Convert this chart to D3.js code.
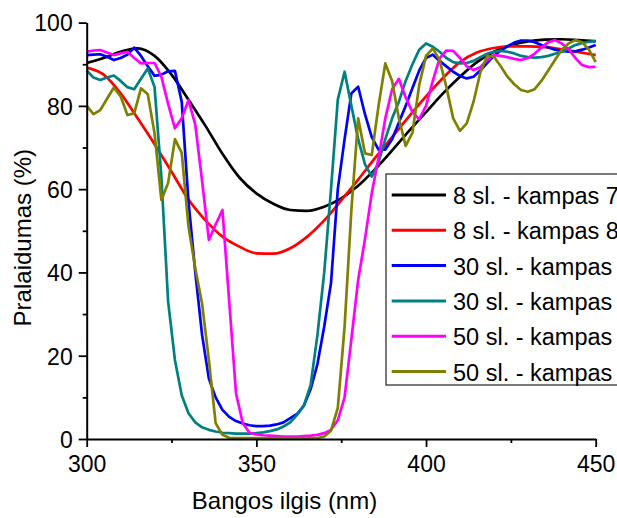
<!DOCTYPE html>
<html>
<head>
<meta charset="utf-8">
<script src="https://cdn.jsdelivr.net/npm/d3@7"></script>
<style>
  body { margin: 0; background: #fff; }
  svg { display: block; font-family: "Liberation Sans", Arial, sans-serif; }
</style>
</head>
<body>
<svg id="chart" width="617" height="518"></svg>
<script>
// wavelength grids
let wlSmooth = [300,305,310,315,320,325,330,335,340,345,350,355,360,365,370,375,380,385,390,395,400,405,410,415,420,425,430,435,440,445,450];
let wl = d3.range(300, 451, 2);

// 8 layers, smooth curves (5 nm)
let s8a = [90.3,91.5,93.0,93.8,92.0,87.5,81.5,75.2,68.5,62.8,59.0,56.5,55.0,54.8,55.8,57.8,60.8,64.8,69.3,74.0,78.5,83.0,87.0,90.5,93.0,94.6,95.5,95.9,96.0,95.8,95.5];
let s8b = [89.2,87.5,83.0,77.0,70.8,64.2,57.5,52.5,48.6,46.2,44.6,44.5,45.8,48.6,52.5,57.3,62.3,67.5,72.5,77.5,82.3,86.7,90.5,92.8,93.9,94.3,94.3,94.1,93.6,92.9,92.2];

// 30 and 50 layers (2 nm)
let s30a = [92.2,92.3,92.4,91.8,91.0,91.5,92.3,94.0,92.0,89.5,87.2,87.5,88.3,88.4,81.0,57.0,40.0,25.0,14.5,10.0,
  7.0,5.3,4.3,3.7,3.3,3.1,3.1,3.2,3.5,4.0,5.0,6.0,8.0,12.0,18.0,27.0,37.5,60.0,72.0,83.0,
  84.6,78.0,72.5,69.5,69.5,72.0,76.0,80.0,84.3,88.5,91.5,92.3,90.8,89.5,88.2,87.2,86.6,87.0,88.5,90.3,
  92.0,93.3,94.3,95.2,95.7,95.7,95.3,94.6,94.0,93.5,93.2,93.0,93.1,93.5,94.0,94.6];
let s30b = [88.5,86.8,86.2,86.8,87.3,86.0,84.5,84.0,86.5,89.0,84.5,63.0,33.0,19.0,10.5,6.2,4.0,2.8,2.2,1.8,
  1.5,1.4,1.3,1.3,1.3,1.4,1.6,1.9,2.3,3.0,4.0,5.8,8.0,13.0,25.0,40.0,60.0,81.5,88.2,80.0,
  72.0,66.0,63.0,66.5,72.0,77.0,81.0,86.0,90.0,93.5,95.0,94.2,93.0,91.5,90.5,90.2,90.3,90.8,91.7,92.5,
  93.0,93.2,93.0,92.6,92.0,91.7,91.6,91.7,92.0,92.5,93.0,93.8,94.6,95.1,95.4,95.6];
let s50a = [93.0,93.3,93.4,92.8,92.2,92.6,93.0,91.5,90.2,90.3,90.3,87.0,80.5,74.6,77.0,81.4,75.5,62.0,47.8,51.5,
  55.0,33.0,11.0,3.8,1.5,1.1,0.9,0.8,0.7,0.6,0.6,0.6,0.7,0.8,1.0,1.4,2.2,4.5,10.0,24.0,
  38.2,48.0,59.0,67.5,77.0,84.0,86.5,82.0,78.5,76.8,80.0,86.0,91.4,93.3,93.2,91.5,89.5,88.6,89.3,91.0,
  92.2,92.0,91.7,91.3,91.0,91.5,92.5,94.0,95.3,95.8,95.0,93.6,91.5,89.8,89.3,89.4];
let s50b = [80.0,78.0,79.0,81.7,84.4,82.3,77.8,78.2,84.2,82.8,73.4,57.4,61.5,72.0,68.7,51.0,41.0,32.5,19.0,3.8,
  1.0,0.3,0.2,0.2,0.2,0.2,0.2,0.2,0.2,0.2,0.2,0.2,0.2,0.2,0.2,0.6,2.0,7.5,27.0,55.0,
  77.0,68.6,68.2,80.0,90.2,86.0,77.0,70.4,73.6,85.0,92.0,93.8,91.0,84.5,77.0,74.0,75.8,81.0,88.0,92.0,
  91.8,89.5,87.0,85.2,83.8,83.4,84.0,86.0,88.5,91.0,93.5,95.0,95.8,95.3,93.5,90.5];

let labels = ["8 sl. - kampas 70°", "8 sl. - kampas 80°", "30 sl. - kampas 70°", "30 sl. - kampas 80°", "50 sl. - kampas 70°", "50 sl. - kampas 80°"];
let colors = ["#000000", "#ff0000", "#0000ff", "#008080", "#ff00ff", "#808000"];
let xTicks = [300, 350, 400, 450];
let xMinor = [325, 375, 425];
let yTicks = [0, 20, 40, 60, 80, 100];
let yMinor = [10, 30, 50, 70, 90];

let series = [
  {x: wlSmooth, y: s8a, smooth: true},
  {x: wlSmooth, y: s8b, smooth: true},
  {x: wl, y: s30a},
  {x: wl, y: s30b},
  {x: wl, y: s50a},
  {x: wl, y: s50b}
];

let svg = d3.select("#chart");
let x = d3.scaleLinear().domain([300, 450]).range([86.7, 595.7]);
let y = d3.scaleLinear().domain([0, 100]).range([439, 22.6]);

// lines
series.forEach((s, i) => {
  let line = d3.line()
    .x((d, j) => x(s.x[j]))
    .y(d => y(d))
    .curve(s.smooth ? d3.curveMonotoneX : d3.curveLinear);
  svg.append("path")
    .attr("d", line(s.y))
    .attr("fill", "none")
    .attr("stroke", colors[i])
    .attr("stroke-width", 2.7)
    .attr("stroke-linejoin", "round");
});

// axes
let gx = svg.append("g").attr("transform", "translate(0,439)")
  .call(d3.axisBottom(x).tickValues(xTicks).tickSize(8).tickSizeOuter(0).tickPadding(9));
let gxm = svg.append("g").attr("transform", "translate(0,439)")
  .call(d3.axisBottom(x).tickValues(xMinor).tickSize(4).tickFormat(""));
gxm.select(".domain").remove();
let gy = svg.append("g").attr("transform", "translate(86.7,0)")
  .call(d3.axisLeft(y).tickValues(yTicks).tickSize(8).tickSizeOuter(0).tickPadding(6));
let gym = svg.append("g").attr("transform", "translate(86.7,0)")
  .call(d3.axisLeft(y).tickValues(yMinor).tickSize(4).tickFormat(""));
gym.select(".domain").remove();

svg.selectAll(".domain").attr("stroke", "#000").attr("stroke-width", 2);
svg.selectAll(".tick line").attr("stroke", "#000").attr("stroke-width", 1.8);
svg.selectAll(".tick text").attr("font-size", 23).attr("fill", "#000")
  .attr("font-family", "Liberation Sans, Arial, sans-serif");
gy.selectAll(".tick text").attr("dy", "0.36em");

// axis titles
svg.append("text")
  .attr("x", 284.5).attr("y", 509)
  .attr("text-anchor", "middle")
  .attr("font-size", 24)
  .text("Bangos ilgis (nm)");
svg.append("text")
  .attr("transform", "translate(30.5,237.7) rotate(-90)")
  .attr("text-anchor", "middle")
  .attr("font-size", 24)
  .text("Pralaidumas (%)");

// legend
let lg = svg.append("g");
lg.append("rect")
  .attr("x", 386).attr("y", 174)
  .attr("width", 300).attr("height", 211)
  .attr("fill", "#fff")
  .attr("stroke", "#333")
  .attr("stroke-width", 1.3);
labels.forEach((t, i) => {
  let ly = 195 + i * 35.3;
  lg.append("line")
    .attr("x1", 391.7).attr("x2", 446)
    .attr("y1", ly).attr("y2", ly)
    .attr("stroke", colors[i])
    .attr("stroke-width", 3);
  lg.append("text")
    .attr("x", 453).attr("y", ly + 9)
    .attr("font-size", 23.5)
    .text(t);
});
</script>
</body>
</html>
